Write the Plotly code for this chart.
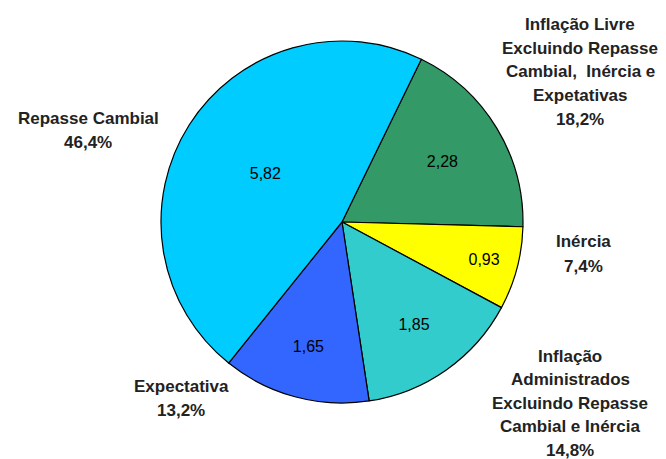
"""Decomposição da inflação - gráfico de pizza."""

import plotly.graph_objects as go

# Dados (ordem dos setores, sentido horário a partir do topo)
categorias = [
    'Inflação Livre Excluindo Repasse Cambial, Inércia e Expetativas',
    'Inércia',
    'Inflação Administrados Excluindo Repasse Cambial e Inércia',
    'Expectativa',
    'Repasse Cambial',
]
valores = [2.28, 0.93, 1.85, 1.65, 5.82]
rotulos_valor = ['2,28', '0,93', '1,85', '1,65', '5,82']
percentuais = ['18,2%', '7,4%', '14,8%', '13,2%', '46,4%']
cores = ['#339966', '#FFFF00', '#33CCCC', '#3366FF', '#00CCFF']

# Rótulos externos, quebrados em linhas
linhas_rotulo = [
    ['Inflação Livre', 'Excluindo Repasse', 'Cambial,  Inércia e', 'Expetativas'],
    ['Inércia'],
    ['Inflação', 'Administrados', 'Excluindo Repasse', 'Cambial e Inércia'],
    ['Expectativa'],
    ['Repasse Cambial'],
]

# a página desloca a figura 8 px (margem do body); compensamos aqui
OFF = 8
W, H = 666 - OFF, 459 - OFF
FONTE = 'Liberation Sans, Arial, sans-serif'

cx, cy, r = 342 - OFF, 222 - OFF, 181

fig = go.Figure(go.Pie(
    labels=categorias,
    values=valores,
    text=rotulos_valor,
    textinfo='text',
    textposition='inside',
    insidetextorientation='horizontal',
    textfont=dict(family=FONTE, size=16, color='black'),
    marker=dict(colors=cores, line=dict(color='black', width=1.2)),
    sort=False,
    direction='clockwise',
    rotation=26,
    hoverinfo='skip',
    showlegend=False,
    domain=dict(x=[(cx - r) / W, (cx + r) / W],
                y=[1 - (cy + r) / H, 1 - (cy - r) / H]),
))

# posição (px na imagem) de cada bloco: centro x, y da 1a linha, espaçamento
posicoes = [(580, 24, 24), (583, 241, 25), (570, 356, 23.5), (181, 386, 24), (88, 119, 23)]

anotacoes = []
for linhas, pct, (px, py, esp) in zip(linhas_rotulo, percentuais, posicoes):
    for i, t in enumerate(linhas + [pct]):
        anotacoes.append(dict(
            text=f'<b>{t}</b>',
            x=(px - OFF) / W, y=1 - (py + i * esp - OFF) / H,
            xref='paper', yref='paper',
            xanchor='center', yanchor='middle',
            showarrow=False,
            font=dict(family=FONTE, size=17, color='#222222'),
        ))

fig.update_layout(
    width=W, height=H,
    margin=dict(l=0, r=0, t=0, b=0),
    paper_bgcolor='white',
    plot_bgcolor='white',
    annotations=anotacoes,
)

fig.write_html('out.html')
